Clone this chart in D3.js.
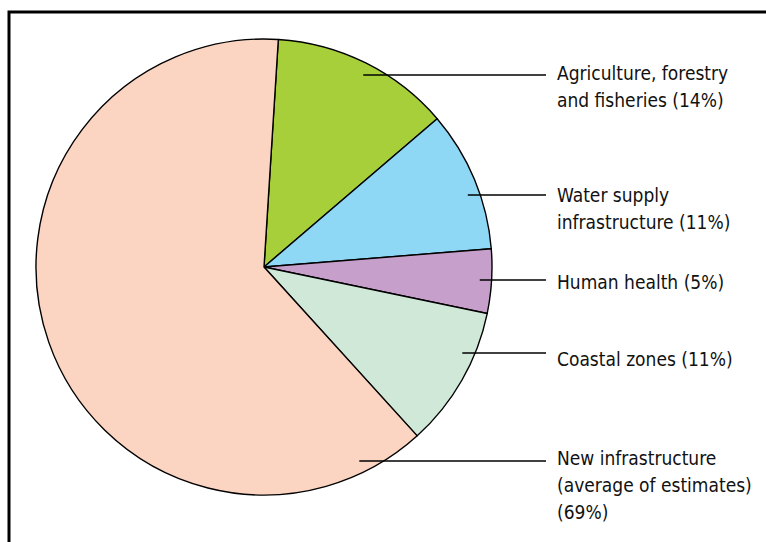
<!DOCTYPE html>
<html>
<head>
<meta charset="utf-8">
<script src="https://cdn.jsdelivr.net/npm/d3@7"></script>
<style>
  html, body { margin: 0; padding: 0; background: #fff; }
  svg { display: block; }
  text { font-family: "Liberation Sans Narrow", "DejaVu Sans Condensed", "Liberation Sans", sans-serif; }
</style>
</head>
<body>
<svg id="chart" width="766" height="542"></svg>
<script>
// Sectors, clockwise from the top of the pie
const categories = [
  "Agriculture, forestry and fisheries",
  "Water supply infrastructure",
  "Human health",
  "Coastal zones",
  "New infrastructure (average of estimates)"
];
const shares = [14, 11, 5, 11, 69];
const labelLines = [
  ["Agriculture, forestry", "and fisheries (14%)"],
  ["Water supply", "infrastructure (11%)"],
  ["Human health (5%)"],
  ["Coastal zones (11%)"],
  ["New infrastructure", "(average of estimates)", "(69%)"]
];
const colors = ["#a7cf3a", "#8ed8f6", "#c6a0cb", "#cfe8d8", "#fcd4c2"];

// Layout
const W = 766, H = 542;
const cx = 264, cy = 267, R = 228;
const startDeg = 3.6;
const leaderY = [75, 195, 280, 353, 461];   // vertical position of each callout
const leaderEndX = 546, textX = 557, lineGap = 27;

const svg = d3.select("#chart");

// Frame along the top and left edges
svg.append("path")
  .attr("d", `M9,${H + 5} L9,12 L${W + 5},12`)
  .attr("fill", "none")
  .attr("stroke", "#000")
  .attr("stroke-width", 3);

const pie = d3.pie()
  .sort(null)
  .value(d => d)
  .startAngle(startDeg * Math.PI / 180)
  .endAngle(startDeg * Math.PI / 180 + 2 * Math.PI);

const arc = d3.arc().innerRadius(0).outerRadius(R);

const g = svg.append("g").attr("transform", `translate(${cx},${cy})`);

g.selectAll("path.slice")
  .data(pie(shares))
  .join("path")
  .attr("class", "slice")
  .attr("d", arc)
  .attr("fill", (d, i) => colors[i])
  .attr("stroke", "#000")
  .attr("stroke-width", 1.4)
  .attr("stroke-linejoin", "round");

// Callouts: a horizontal leader starting just inside the rim of each slice
const rLead = R * 0.948;
const callouts = svg.append("g");
categories.forEach((name, i) => {
  const y = leaderY[i];
  const dy = y - cy;
  const x0 = cx + Math.sqrt(Math.max(0, rLead * rLead - dy * dy));
  callouts.append("line")
    .attr("x1", x0).attr("y1", y)
    .attr("x2", leaderEndX).attr("y2", y)
    .attr("stroke", "#000")
    .attr("stroke-width", 1.3);

  const t = callouts.append("text")
    .attr("x", textX)
    .attr("y", y)
    .attr("font-size", 19)
    .attr("fill", "#111");
  labelLines[i].forEach((ln, k) => {
    t.append("tspan")
      .attr("x", textX)
      .attr("y", null)
      .attr("dy", k === 0 ? 0 : lineGap)
      .text(ln);
  });
});

// Baselines of the first line of each callout
const firstBaseline = [80, 202, 289, 366, 465];
callouts.selectAll("text").each(function (d, i) {
  d3.select(this).attr("y", firstBaseline[i]);
});
</script>
</body>
</html>
